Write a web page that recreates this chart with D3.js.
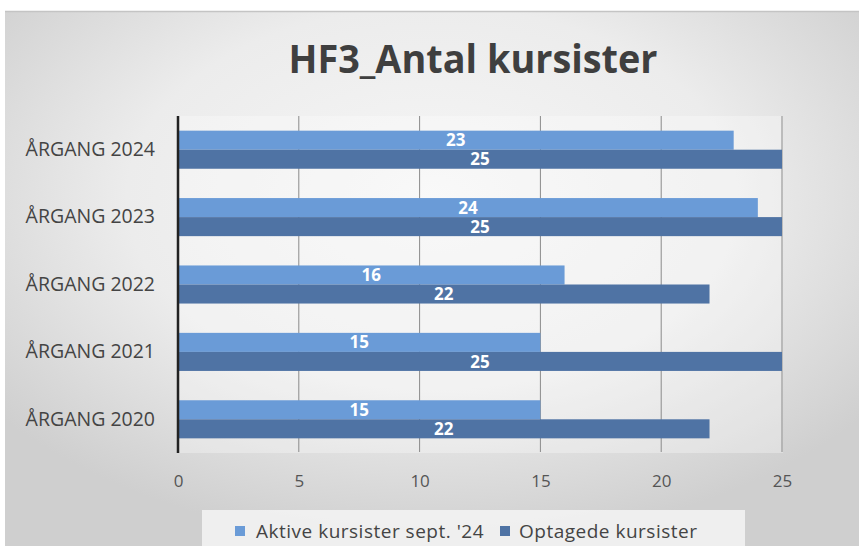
<!DOCTYPE html>
<html><head><meta charset="utf-8">
<script src="https://cdn.jsdelivr.net/npm/d3@7"></script>
<style>html,body{margin:0;padding:0;background:#fff;}svg{display:block;}</style>
</head><body>
<svg id="c" width="859" height="546"></svg>
<script>
const categories = ["ÅRGANG 2024","ÅRGANG 2023","ÅRGANG 2022","ÅRGANG 2021","ÅRGANG 2020"];
const aktive = [23,24,16,15,15];
const optagede = [25,25,22,25,22];
const seriesNames = ["Aktive kursister sept. '24","Optagede kursister"];
const xTicks = [0,5,10,15,20,25];
const title = "HF3_Antal kursister";

const colors = ["#6a9bd7","#4f73a4"];
const svg = d3.select("#c");
const defs = svg.append("defs");
const rg = defs.append("radialGradient").attr("id","bg").attr("cx","50%").attr("cy","35%").attr("r","65%");
rg.append("stop").attr("offset","0%").attr("stop-color","#f6f6f6");
rg.append("stop").attr("offset","55%").attr("stop-color","#ececec");
rg.append("stop").attr("offset","100%").attr("stop-color","#cfcfcf");

svg.append("rect").attr("x",5).attr("y",11).attr("width",854).attr("height",535).attr("fill","url(#bg)");
svg.append("line").attr("x1",5).attr("x2",859).attr("y1",11.5).attr("y2",11.5).attr("stroke","#c4c4c4").attr("stroke-width",1.5);

const x = d3.scaleLinear().domain([0,25]).range([178,782]);
const y = d3.scaleBand().domain(categories).range([116,453]).paddingInner(0.435).paddingOuter(0.2175);

// plot area
svg.append("rect").attr("x",178).attr("y",116).attr("width",605).attr("height",337).attr("fill","#ffffff").attr("opacity",0.3);

// title
svg.append("text").attr("x",473).attr("y",73).attr("text-anchor","middle")
  .attr("font-family","Open Sans").attr("font-weight","bold").attr("font-size",40)
  .attr("textLength",369).attr("lengthAdjust","spacingAndGlyphs")
  .attr("fill","#3f3f3f").text(title);

// gridlines
svg.append("g").selectAll("line").data(xTicks.filter(d=>d>0)).join("line")
  .attr("x1",d=>x(d)).attr("x2",d=>x(d)).attr("y1",116).attr("y2",452)
  .attr("stroke","#8a8a8a").attr("stroke-width",1);

// x axis labels
const xa = svg.append("g").attr("transform","translate(0,481)")
  .call(d3.axisBottom(x).tickValues(xTicks).tickSize(0).tickPadding(0));
xa.select(".domain").remove();
xa.selectAll("text").attr("font-family","Open Sans").attr("font-size",17).attr("fill","#555")
  .attr("dy","0.35em").attr("y",0);

// bars
const bh = y.bandwidth()/2;
const g = svg.append("g");
[aktive, optagede].forEach((vals,si)=>{
  g.selectAll(null).data(vals).join("rect")
    .attr("x",x(0)).attr("y",(d,i)=>y(categories[i])+si*bh)
    .attr("width",d=>x(d)-x(0)).attr("height",bh).attr("fill",colors[si]);
  g.selectAll(null).data(vals).join("text")
    .attr("x",d=>x(d/2)).attr("y",(d,i)=>y(categories[i])+si*bh+bh/2)
    .attr("dy","0.36em").attr("text-anchor","middle")
    .attr("font-family","Open Sans").attr("font-weight","bold").attr("font-size",17)
    .attr("fill","#ffffff").text(d=>d);
});

// y axis
const ya = svg.append("g").attr("transform","translate(155,0)")
  .call(d3.axisLeft(y).tickSize(0).tickPadding(0));
ya.select(".domain").remove();
ya.selectAll("text").attr("font-family","Open Sans").attr("font-size",19.5).attr("fill","#444");
svg.append("line").attr("x1",178).attr("x2",178).attr("y1",116).attr("y2",453).attr("stroke","#222").attr("stroke-width",2.5);

// legend
svg.append("rect").attr("x",202).attr("y",510).attr("width",543).attr("height",36).attr("fill","#f5f5f5").attr("opacity",0.85);
const lx = [235,500];
seriesNames.forEach((n,i)=>{
  svg.append("rect").attr("x",lx[i]).attr("y",526).attr("width",10).attr("height",10).attr("fill",colors[i]);
  svg.append("text").attr("x",lx[i]+(i===0?21:19)).attr("y",531).attr("dy","0.35em")
    .attr("font-family","Open Sans").attr("font-size",19).attr("letter-spacing",0.5).attr("fill","#444").text(n);
});
</script>
</body></html>
